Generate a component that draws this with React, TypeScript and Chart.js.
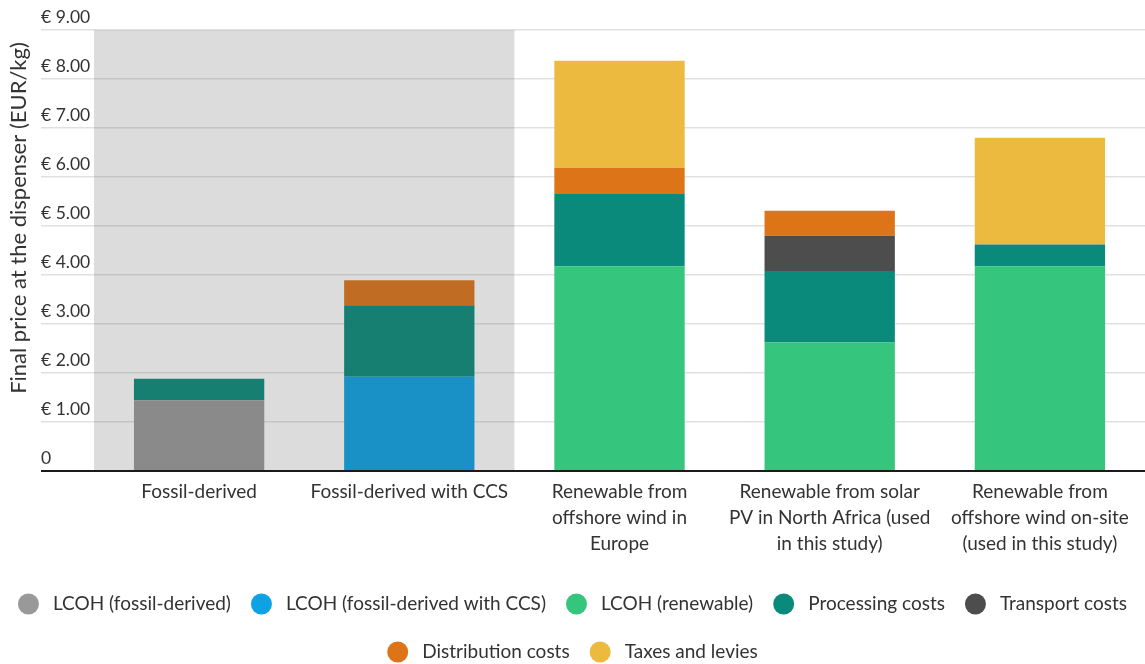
import React, { useEffect, useRef } from 'react';
import { Chart, registerables } from 'chart.js';

Chart.register(...registerables);

const categories: (string | string[])[] = [
  'Fossil-derived',
  'Fossil-derived with CCS',
  ['Renewable from', 'offshore wind in', 'Europe'],
  ['Renewable from solar', 'PV in North Africa (used', 'in this study)'],
  ['Renewable from', 'offshore wind on-site', '(used in this study)'],
];

const lcohFossil = [1.44, 0, 0, 0, 0];
const lcohCCS = [0, 1.92, 0, 0, 0];
const lcohRenewable = [0, 0, 4.18, 2.62, 4.18];
const processingCosts = [0.44, 1.46, 1.47, 1.46, 0.44];
const transportCosts = [0, 0, 0, 0.72, 0];
const distributionCosts = [0, 0.51, 0.54, 0.51, 0];
const taxesAndLevies = [0, 0, 2.18, 0, 2.18];

const seriesNames = [
  'LCOH (fossil-derived)',
  'LCOH (fossil-derived with CCS)',
  'LCOH (renewable)',
  'Processing costs',
  'Transport costs',
  'Distribution costs',
  'Taxes and levies',
];
const seriesColors = ['#999999', '#0ca2e4', '#35c57c', '#098a7b', '#4d4d4d', '#dd7518', '#ebba3e'];

const yTickLabels = ['0', '€ 1.00', '€ 2.00', '€ 3.00', '€ 4.00', '€ 5.00', '€ 6.00', '€ 7.00', '€ 8.00', '€ 9.00'];
const yTitle = 'Final price at the dispenser (EUR/kg)';
const shadedCategories = 2;

const FONT = 'Lato';
const TEXT = '#333333';

const decorPlugin = {
  id: 'decor',
  afterDatasetsDraw(chart: any) {
    const { ctx, chartArea, scales } = chart;
    const xs = scales.x;
    const xMid = xs.getPixelForValue(shadedCategories - 0.5);
    ctx.save();
    ctx.fillStyle = 'rgba(80,80,80,0.2)';
    ctx.fillRect(chartArea.left, chartArea.top, xMid - chartArea.left, chartArea.bottom - chartArea.top);
    ctx.strokeStyle = '#1a1a1a';
    ctx.lineWidth = 2;
    ctx.beginPath();
    ctx.moveTo(scales.y.left, chartArea.bottom);
    ctx.lineTo(chart.width, chartArea.bottom);
    ctx.stroke();
    ctx.restore();
  },
  afterDraw(chart: any) {
    const { ctx } = chart;
    ctx.save();
    ctx.font = `22px ${FONT}`;
    ctx.fillStyle = TEXT;
    ctx.textAlign = 'center';
    ctx.textBaseline = 'middle';
    ctx.translate(19, 218);
    ctx.rotate(-Math.PI / 2);
    ctx.fillText(yTitle, 0, 0);
    ctx.restore();

    ctx.save();
    ctx.font = `19px ${FONT}`;
    ctx.textBaseline = 'middle';
    ctx.textAlign = 'left';
    const r = 10.5;
    const textGap = 14;
    const itemGap = 20;
    const items = chart.data.datasets.map((d: any) => ({
      label: d.label,
      color: d.backgroundColor,
      w: 2 * r + textGap + ctx.measureText(d.label).width,
    }));
    const maxW = chart.width - 10;
    const rows: any[][] = [];
    let cur: any[] = [];
    let curW = 0;
    items.forEach((it: any) => {
      const add = cur.length ? itemGap + it.w : it.w;
      if (cur.length && curW + add > maxW) {
        rows.push(cur);
        cur = [it];
        curW = it.w;
      } else {
        cur.push(it);
        curW += add;
      }
    });
    if (cur.length) rows.push(cur);
    const rowYs = [604, 652];
    rows.forEach((row, ri) => {
      const total = row.reduce((s: number, it: any) => s + it.w, 0) + itemGap * (row.length - 1);
      let x = (chart.width - total) / 2;
      const y = rowYs[ri] ?? rowYs[0] + ri * 48;
      row.forEach((it: any) => {
        ctx.fillStyle = it.color;
        ctx.beginPath();
        ctx.arc(x + r, y, r, 0, Math.PI * 2);
        ctx.fill();
        ctx.fillStyle = TEXT;
        ctx.fillText(it.label, x + 2 * r + textGap, y);
        x += it.w + itemGap;
      });
    });
    ctx.restore();
  },
};

export default function App() {
  const ref = useRef<HTMLCanvasElement>(null);
  useEffect(() => {
    document.body.style.margin = '0';
    const seriesValues = [
      lcohFossil,
      lcohCCS,
      lcohRenewable,
      processingCosts,
      transportCosts,
      distributionCosts,
      taxesAndLevies,
    ];
    const chart = new Chart(ref.current as HTMLCanvasElement, {
      type: 'bar',
      data: {
        labels: categories as any,
        datasets: seriesNames.map((name, i) => ({
          label: name,
          data: seriesValues[i],
          backgroundColor: seriesColors[i],
          borderWidth: 0,
          barPercentage: 0.62,
          categoryPercentage: 1,
        })),
      },
      options: {
        responsive: false,
        animation: false,
        layout: { padding: { left: 41, top: 30, right: 0, bottom: 99 } },
        plugins: { legend: { display: false }, tooltip: { enabled: false } },
        scales: {
          x: {
            stacked: true,
            grid: { display: false, drawTicks: false },
            border: { display: false },
            ticks: {
              font: { family: FONT, size: 19, lineHeight: 1.37 },
              color: TEXT,
              padding: 8,
              maxRotation: 0,
              autoSkip: false,
            },
          },
          y: {
            stacked: true,
            min: 0,
            max: 9,
            ticks: {
              stepSize: 1,
              crossAlign: 'far',
              labelOffset: -13,
              padding: 0,
              font: { family: FONT, size: 17.5 },
              color: TEXT,
              callback: (v: any) => yTickLabels[Number(v)] ?? '',
            },
            grid: { color: 'rgba(0,0,0,0.12)', lineWidth: 1.5, tickLength: 53, drawTicks: true },
            border: { display: false },
            afterFit: (s: any) => {
              s.width = 53;
            },
          },
        },
      },
      plugins: [decorPlugin],
    });
    return () => chart.destroy();
  }, []);
  return (
    <div style={{ width: 1145, height: 664 }}>
      <canvas ref={ref} width={1145} height={664} />
    </div>
  );
}
